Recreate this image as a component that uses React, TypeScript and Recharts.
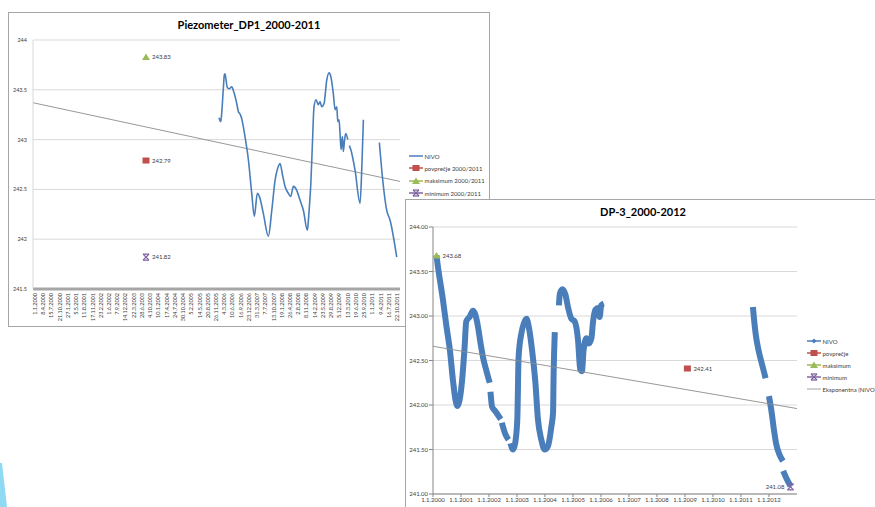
import React from 'react';
import { ComposedChart, Line, Scatter, XAxis, YAxis, CartesianGrid } from 'recharts';

const FONT = 'Lato, "Open Sans", sans-serif';

// --- helpers: "d.m.yyyy" <-> UTC ms ---
const toTime = (s: string) => {
    const [d, m, y] = s.split('.').map(Number);
    return Date.UTC(y, m - 1, d);
};
const fmtDate = (t: number) => {
    const d = new Date(t);
    return `${d.getUTCDate()}.${d.getUTCMonth() + 1}.${d.getUTCFullYear()}`;
};

// ================= Piezometer_DP1 =================
const dp1Dates = [
    '1.1.2006', '21.1.2006', '1.2.2006', '20.2.2006', '5.3.2006', '13.3.2006', '25.3.2006', '10.4.2006',
    '3.5.2006', '1.6.2006', '25.6.2006', '31.7.2006', '19.8.2006', '5.9.2006', '28.9.2006', '17.10.2006',
    '6.11.2006', '16.12.2006', '25.1.2007', '25.2.2007', '2.4.2007', '26.4.2007', '12.6.2007', '11.8.2007',
    '21.9.2007', '30.10.2007', '8.12.2007', '28.12.2007', '30.1.2008', '26.2.2008', '5.4.2008', '4.5.2008',
    '4.6.2008', '14.7.2008', '23.8.2008', '1.10.2008', '18.11.2008', '30.11.2008', '12.12.2008', '29.12.2008',
    '17.1.2009', '5.2.2009', '1.3.2009', '28.3.2009', '18.4.2009', '8.5.2009', '4.6.2009', '7.7.2009',
    '3.8.2009', '25.8.2009', '23.9.2009', '14.10.2009', '3.11.2009', '15.11.2009', '30.11.2009', '12.12.2009',
    '24.12.2009', '9.1.2010', '20.1.2010', '4.2.2010', '18.2.2010', '14.3.2010', '24.3.2010', '2.4.2010',
    '19.4.2010', '9.6.2010', '7.8.2010', '27.8.2010', '16.9.2010', '1.12.2010', '25.3.2011', '23.4.2011',
    '21.6.2011', '31.7.2011', '18.10.2011',
];
const dp1Nivo: (number | null)[] = [
    243.22, 243.18, 243.26, 243.5, 243.65, 243.66, 243.6, 243.52,
    243.51, 243.53, 243.48, 243.36, 243.28, 243.26, 243.21, 243.13,
    243.03, 242.8, 242.46, 242.23, 242.46, 242.43, 242.26, 242.03,
    242.29, 242.59, 242.73, 242.76, 242.63, 242.53, 242.46, 242.43,
    242.53, 242.49, 242.39, 242.29, 242.09, 242.19, 242.33, 242.56,
    242.96, 243.33, 243.4, 243.35, 243.38, 243.33, 243.36, 243.6,
    243.67, 243.63, 243.46, 243.3, 243.33, 243.18, 243.2, 243.06,
    242.9, 243.03, 242.88, 243.0, 243.06, 243.0, null, 242.94,
    242.9, 242.69, 242.36, 242.69, 243.2, null, 242.97, 242.69,
    242.29, 242.19, 241.82,
];
const dp1TickLabels = [
    '1.1.2000', '8.4.2000', '15.7.2000', '21.10.2000', '27.1.2001', '5.5.2001', '11.8.2001', '17.11.2001',
    '23.2.2002', '1.6.2002', '7.9.2002', '14.12.2002', '22.3.2003', '28.6.2003', '4.10.2003', '10.1.2004',
    '17.4.2004', '24.7.2004', '30.10.2004', '5.2.2005', '14.5.2005', '20.8.2005', '26.11.2005', '4.3.2006',
    '10.6.2006', '16.9.2006', '23.12.2006', '31.3.2007', '7.7.2007', '13.10.2007', '19.1.2008', '26.4.2008',
    '2.8.2008', '8.11.2008', '14.2.2009', '23.5.2009', '29.8.2009', '5.12.2009', '13.3.2010', '19.6.2010',
    '25.9.2010', '1.1.2011', '9.4.2011', '16.7.2011', '22.10.2011',
];
const dp1YTicks = [241.5, 242, 242.5, 243, 243.5, 244];
const dp1StatDate = '15.8.2003';
const dp1Povprecje = 242.79;
const dp1Maksimum = 243.83;
const dp1Minimum = 241.82;
const dp1TrendDates = ['8.12.1999', '26.11.2011'];
const dp1TrendValues = [243.37, 242.58];
const dp1Legend = ['NIVO', 'povprečje 2000/2011', 'maksimum 2000/2011', 'minimum 2000/2011'];

// ================= DP-3 =================
const dp3Dates = [
    '15.2.2000', '6.3.2000', '10.5.2000', '25.6.2000', '8.8.2000', '17.9.2000', '20.10.2000', '15.11.2000',
    '14.12.2000', '15.1.2001', '17.2.2001', '10.3.2001', '23.4.2001', '6.6.2001', '5.7.2001', '10.8.2001',
    '13.9.2001', '16.10.2001', '29.11.2001', '10.1.2002', '15.1.2002', '20.1.2002', '10.2.2002', '25.3.2002',
    '3.6.2002', '10.6.2002', '17.6.2002', '3.8.2002', '12.9.2002', '25.9.2002', '8.10.2002', '10.11.2002',
    '8.12.2002', '5.1.2003', '22.1.2003', '28.2.2003', '1.4.2003', '5.5.2003', '3.6.2003', '16.7.2003',
    '29.8.2003', '1.10.2003', '14.11.2003', '28.12.2003', '10.2.2004', '25.3.2004', '15.4.2004', '23.4.2004',
    '8.5.2004', '1.6.2004', '1.7.2004', '13.7.2004', '15.8.2004', '24.9.2004', '27.10.2004', '10.12.2004',
    '22.1.2005', '7.3.2005', '5.4.2005', '27.4.2005', '19.5.2005', '25.6.2005', '24.7.2005', '29.8.2005',
    '17.9.2005', '20.10.2005', '22.11.2005', '14.12.2005', '4.1.2006', '6.2.2006', '1.3.2006', '6.6.2011',
    '28.6.2011', '13.7.2011', '22.8.2011', '5.10.2011', '18.11.2011', '10.12.2011', '1.1.2012', '3.2.2012',
    '3.3.2012', '5.4.2012', '19.5.2012', '1.7.2012', '3.7.2012', '5.7.2012', '14.8.2012', '8.10.2012',
];
const dp3Nivo: (number | null)[] = [
    243.68, 243.55, 243.18, 242.88, 242.62, 242.28, 242.06, 241.99,
    242.06, 242.28, 242.66, 242.94, 242.99, 243.06, 243.02, 242.88,
    242.69, 242.53, 242.38, 242.25, null, 242.15, 241.98, 241.93,
    241.84, null, 241.8, 241.67, 241.61, null, 241.57, 241.5,
    241.57, 241.84, 242.54, 242.81, 242.92, 242.97, 242.88, 242.62,
    242.25, 241.84, 241.61, 241.5, 241.54, 241.76, 241.91, 242.36,
    242.82, null, 243.12, 243.25, 243.3, 243.24, 243.1, 242.97,
    242.94, 242.73, 242.4, 242.38, 242.62, 242.75, 242.69, 242.75,
    242.92, 243.07, 243.09, 242.99, 243.12, 243.14, null, 243.1,
    242.9, 242.79, 242.6, 242.45, 242.3, null, 242.1, 241.93,
    241.74, 241.56, 241.44, 241.37, null, 241.26, 241.18, 241.09,
];
const dp3TickLabels = [
    '1.1.2000', '1.1.2001', '1.1.2002', '1.1.2003', '1.1.2004', '1.1.2005', '1.1.2006',
    '1.1.2007', '1.1.2008', '1.1.2009', '1.1.2010', '1.1.2011', '1.1.2012',
];
const dp3YTicks = [241, 241.5, 242, 242.5, 243, 243.5, 244];
const dp3PovprecjeDate = '1.2.2009';
const dp3Povprecje = 242.41;
const dp3MaksimumDate = '15.2.2000';
const dp3Maksimum = 243.68;
const dp3MinimumDate = '8.10.2012';
const dp3Minimum = 241.08;
const dp3TrendDates = ['1.1.2000', '1.1.2013'];
const dp3TrendValues = [242.66, 241.96];
const dp3Legend = ['NIVO', 'povprečje', 'maksimum', 'minimum', 'Eksponentna (NIVO)'];

// --- colours ---
const BLUE = '#4a7ebb';
const RED = '#c0504d';
const GREEN = '#9bbb59';
const PURPLE = '#8064a2';
const TREND = '#8c8c8c';
const TEXT = '#404040';

// build rows for recharts
const rows = (dates: string[], vals: (number | null)[]) => dates.map((d, i) => ({ t: toTime(d), v: vals[i] }));
const dp1Rows = rows(dp1Dates, dp1Nivo);
const dp1Trend = rows(dp1TrendDates, dp1TrendValues);
const dp3Rows = rows(dp3Dates, dp3Nivo);
const dp3Trend = rows(dp3TrendDates, dp3TrendValues);

// --- markers ---
const drawMarker = (kind: string, cx: number, cy: number, color: string) => {
    if (kind === 'square') return <rect x={cx - 3.5} y={cy - 3} width={7} height={6} fill={color} />;
    if (kind === 'triangle') return <polygon points={`${cx},${cy - 3.5} ${cx + 4},${cy + 3} ${cx - 4},${cy + 3}`} fill={color} />;
    if (kind === 'diamond') return <polygon points={`${cx},${cy - 2.5} ${cx + 2.5},${cy} ${cx},${cy + 2.5} ${cx - 2.5},${cy}`} fill={color} />;
    if (kind === 'star')
        return (
            <g stroke={color} strokeWidth={1.3}>
                <line x1={cx - 3} y1={cy - 3} x2={cx + 3} y2={cy + 3} />
                <line x1={cx - 3} y1={cy + 3} x2={cx + 3} y2={cy - 3} />
                <line x1={cx - 3} y1={cy - 3} x2={cx + 3} y2={cy - 3} />
                <line x1={cx - 3} y1={cy + 3} x2={cx + 3} y2={cy + 3} />
            </g>
        );
    return null;
};

// scatter point with its value label beside it
const statShape = (kind: string, color: string, side: 'left' | 'right' = 'right') => (props: any) => {
    const { cx, cy, payload } = props;
    if (cx == null || cy == null) return <g />;
    return (
        <g>
            {drawMarker(kind, cx, cy, color)}
            <text
                x={side === 'right' ? cx + 6 : cx - 6}
                y={cy}
                dy="0.35em"
                textAnchor={side === 'right' ? 'start' : 'end'}
                fontSize={6}
                fill={TEXT}
                fontFamily={FONT}
            >
                {payload.v.toFixed(2)}
            </text>
        </g>
    );
};

// rotated date ticks for DP1
const dp1Tick = (props: any) => {
    const { x, y, payload } = props;
    const ty = y + 4;
    return (
        <text x={x} y={ty} transform={`rotate(-90, ${x}, ${ty})`} textAnchor="end" dy="0.35em" fontSize={5.5} fill={TEXT} fontFamily={FONT}>
            {fmtDate(payload.value)}
        </text>
    );
};

// --- legend block ---
interface LegendItem { label: string; color: string; marker: string; thin?: boolean }
const LegendBlock = ({ left, top, gap, items }: { left: number; top: number; gap: number; items: LegendItem[] }) => (
    <div style={{ position: 'absolute', left, top, fontSize: 6, color: TEXT, fontFamily: FONT }}>
        {items.map((it) => (
            <div key={it.label} style={{ display: 'flex', alignItems: 'center', height: gap, whiteSpace: 'nowrap' }}>
                <svg width={14} height={8} style={{ display: 'block' }}>
                    <line x1={0} y1={4} x2={14} y2={4} stroke={it.color} strokeWidth={it.thin ? 0.8 : 1.5} />
                    {drawMarker(it.marker, 7, 4, it.color)}
                </svg>
                <span style={{ marginLeft: 1.5 }}>{it.label}</span>
            </div>
        ))}
    </div>
);

const dp1LegendItems: LegendItem[] = [
    { label: dp1Legend[0], color: BLUE, marker: 'none' },
    { label: dp1Legend[1], color: RED, marker: 'square' },
    { label: dp1Legend[2], color: GREEN, marker: 'triangle' },
    { label: dp1Legend[3], color: PURPLE, marker: 'star' },
];
const dp3LegendItems: LegendItem[] = [
    { label: dp3Legend[0], color: BLUE, marker: 'diamond' },
    { label: dp3Legend[1], color: RED, marker: 'square' },
    { label: dp3Legend[2], color: GREEN, marker: 'triangle' },
    { label: dp3Legend[3], color: PURPLE, marker: 'star' },
    { label: dp3Legend[4], color: TREND, marker: 'none', thin: true },
];

export default function App() {
    const dp1Stat = (v: number) => [{ t: toTime(dp1StatDate), v }];
    return (
        <div style={{ position: 'fixed', left: 0, top: 0, width: 875, height: 507, overflow: 'hidden', background: '#fff', fontFamily: FONT }}>
            {/* ---------- chart 1 ---------- */}
            <div style={{ position: 'absolute', left: 8, top: 12, width: 482, height: 315, border: '1px solid #a6a6a6', boxSizing: 'border-box', background: '#fff' }} />
            <div style={{ position: 'absolute', left: 8, top: 18, width: 482, textAlign: 'center', fontSize: 11, lineHeight: '14px', fontWeight: 700, color: '#000' }}>
                Piezometer_DP1_2000-2011
            </div>
            <div style={{ position: 'absolute', left: 8, top: 12 }}>
                <ComposedChart width={482} height={315} margin={{ top: 28, right: 90, bottom: 0, left: 0 }}>
                    <CartesianGrid vertical={false} stroke="#d9d9d9" />
                    <XAxis
                        dataKey="t"
                        type="number"
                        domain={[toTime('8.12.1999'), toTime('26.11.2011')]}
                        allowDataOverflow
                        ticks={dp1TickLabels.map(toTime)}
                        interval={0}
                        tick={dp1Tick}
                        tickLine={false}
                        tickSize={0}
                        tickMargin={0}
                        height={38}
                        axisLine={{ stroke: '#a6a6a6', strokeWidth: 3 }}
                    />
                    <YAxis
                        type="number"
                        domain={[241.5, 244]}
                        allowDataOverflow
                        ticks={dp1YTicks}
                        width={25}
                        tickSize={4}
                        tickMargin={2}
                        tickLine={false}
                        axisLine={{ stroke: '#d9d9d9' }}
                        tick={{ fontSize: 5.5, fill: TEXT, fontFamily: FONT }}
                    />
                    <Line data={dp1Trend} dataKey="v" stroke={TREND} strokeWidth={0.9} dot={false} isAnimationActive={false} />
                    <Line data={dp1Rows} dataKey="v" type="monotone" stroke={BLUE} strokeWidth={1.6} dot={false} isAnimationActive={false} />
                    <Scatter data={dp1Stat(dp1Povprecje)} dataKey="v" shape={statShape('square', RED)} isAnimationActive={false} />
                    <Scatter data={dp1Stat(dp1Maksimum)} dataKey="v" shape={statShape('triangle', GREEN)} isAnimationActive={false} />
                    <Scatter data={dp1Stat(dp1Minimum)} dataKey="v" shape={statShape('star', PURPLE)} isAnimationActive={false} />
                </ComposedChart>
            </div>
            <LegendBlock left={409} top={150} gap={12.3} items={dp1LegendItems} />

            {/* ---------- chart 2 ---------- */}
            <div style={{ position: 'absolute', left: 405, top: 199, width: 480, height: 330, borderTop: '1px solid #a6a6a6', borderLeft: '1px solid #a6a6a6', boxSizing: 'border-box', background: '#fff' }} />
            <div style={{ position: 'absolute', left: 405, top: 205, width: 476, textAlign: 'center', fontSize: 11, lineHeight: '14px', fontWeight: 700, color: '#000' }}>
                DP-3_2000-2012
            </div>
            <div style={{ position: 'absolute', left: 405, top: 199 }}>
                <ComposedChart width={480} height={330} margin={{ top: 28, right: 88, bottom: 0, left: 0 }}>
                    <CartesianGrid vertical={false} stroke="#d9d9d9" />
                    <XAxis
                        dataKey="t"
                        type="number"
                        domain={[toTime('1.1.2000'), toTime('1.1.2013')]}
                        allowDataOverflow
                        ticks={dp3TickLabels.map(toTime)}
                        interval={0}
                        tickFormatter={fmtDate}
                        tickSize={3}
                        tickMargin={1}
                        height={35}
                        tickLine={{ stroke: '#868686' }}
                        axisLine={{ stroke: '#868686' }}
                        tick={{ fontSize: 6, fill: TEXT, fontFamily: FONT }}
                    />
                    <YAxis
                        type="number"
                        domain={[241, 244]}
                        allowDataOverflow
                        ticks={dp3YTicks}
                        width={28}
                        tickSize={4}
                        tickMargin={1}
                        tickFormatter={(v: number) => v.toFixed(2)}
                        tickLine={{ stroke: '#868686' }}
                        axisLine={{ stroke: '#868686' }}
                        tick={{ fontSize: 6, fill: TEXT, fontFamily: FONT }}
                    />
                    <Line data={dp3Rows} dataKey="v" type="monotone" stroke={BLUE} strokeWidth={6} strokeLinejoin="round" dot={false} isAnimationActive={false} />
                    <Line data={dp3Trend} dataKey="v" stroke={TREND} strokeWidth={0.9} dot={false} isAnimationActive={false} />
                    <Scatter data={[{ t: toTime(dp3PovprecjeDate), v: dp3Povprecje }]} dataKey="v" shape={statShape('square', RED)} isAnimationActive={false} />
                    <Scatter data={[{ t: toTime(dp3MaksimumDate), v: dp3Maksimum }]} dataKey="v" shape={statShape('triangle', GREEN)} isAnimationActive={false} />
                    <Scatter data={[{ t: toTime(dp3MinimumDate), v: dp3Minimum }]} dataKey="v" shape={statShape('star', PURPLE, 'left')} isAnimationActive={false} />
                </ComposedChart>
            </div>
            <LegendBlock left={807} top={335} gap={12} items={dp3LegendItems} />

            {/* slide decoration, bottom-left */}
            <svg width={10} height={47} style={{ position: 'absolute', left: 0, top: 460 }}>
                <polygon points="0,3 2,3 7,47 0,47" fill="#8fd9f2" />
            </svg>
        </div>
    );
}
